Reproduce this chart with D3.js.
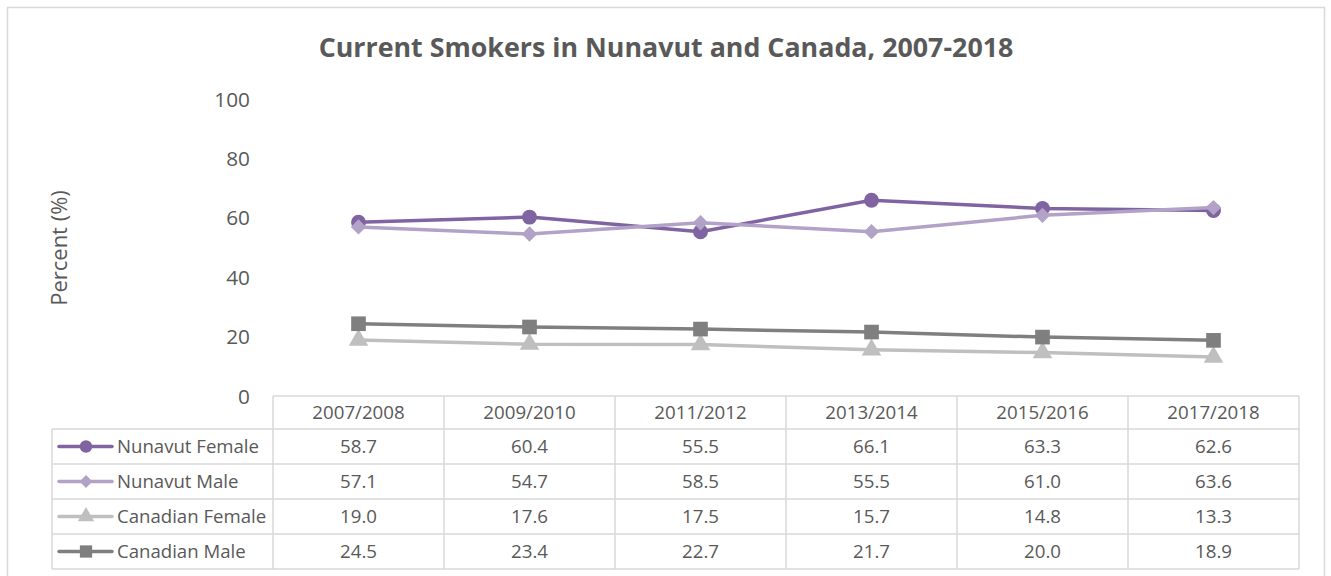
<!DOCTYPE html>
<html><head><meta charset="utf-8">
<script src="https://cdn.jsdelivr.net/npm/d3@7"></script>
<style>body{margin:0;background:#fff;} text{font-family:"Open Sans",sans-serif;}</style>
</head><body>
<svg id="c" width="1331" height="576"></svg>
<script>
const categories = ["2007/2008","2009/2010","2011/2012","2013/2014","2015/2016","2017/2018"];
const seriesNames = ["Nunavut Female","Nunavut Male","Canadian Female","Canadian Male"];
const nunavutFemale = [58.7,60.4,55.5,66.1,63.3,62.6];
const nunavutMale = [57.1,54.7,58.5,55.5,61.0,63.6];
const canadianFemale = [19.0,17.6,17.5,15.7,14.8,13.3];
const canadianMale = [24.5,23.4,22.7,21.7,20.0,18.9];
const yTicks = [0,20,40,60,80,100];
const colors = ["#8064A2","#B3A2C7","#BFBFBF","#7F7F7F"];
const symbols = [d3.symbolCircle, d3.symbolDiamond2 || d3.symbolDiamond, d3.symbolTriangle, d3.symbolSquare];
const symSizes = [175, 150, 165, 215];

const seriesData = [nunavutFemale, nunavutMale, canadianFemale, canadianMale];
const svg = d3.select("#c");
svg.append("rect").attr("x",7.5).attr("y",7.5).attr("width",1317).attr("height",580)
  .attr("fill","#fff").attr("stroke","#d9d9d9").attr("stroke-width",1.5);

svg.append("text").attr("x",666).attr("y",57).attr("text-anchor","middle")
  .attr("font-size",26.8).attr("font-weight","bold").attr("fill","#595959")
  .text("Current Smokers in Nunavut and Canada, 2007-2018");

const x = d3.scaleBand().domain(categories).range([273,1299]);
const y = d3.scaleLinear().domain([0,100]).range([396.5,99.5]);

const yAxis = d3.axisLeft(y).tickValues(yTicks).tickSize(0).tickPadding(0);
const ga = svg.append("g").attr("transform","translate(250,0)").call(yAxis);
ga.select(".domain").remove();
ga.selectAll("text").attr("font-size",20.8).attr("fill","#595959").attr("font-family","'Open Sans',sans-serif");

svg.append("text").attr("transform","translate(67,248) rotate(-90)").attr("text-anchor","middle")
  .attr("font-size",22).attr("fill","#595959").text("Percent (%)");

const line = d3.line().x((d,i)=>x(categories[i])+x.bandwidth()/2).y(d=>y(d));
seriesData.forEach((s,k)=>{
  svg.append("path").datum(s).attr("d",line).attr("fill","none")
    .attr("stroke",colors[k]).attr("stroke-width",3.5).attr("stroke-linejoin","round");
  svg.selectAll(null).data(s).enter().append("path")
    .attr("transform",(d,i)=>`translate(${x(categories[i])+x.bandwidth()/2},${y(d)})`)
    .attr("d",d3.symbol().type(symbols[k]).size(symSizes[k])).attr("fill",colors[k]);
});

const rowTop = [396,429,464,499,534,569];
const tableLeft = 52, tableRight = 1299;
const g = svg.append("g");
const bc = "#d9d9d9";
g.append("line").attr("x1",x(categories[0])).attr("x2",tableRight).attr("y1",rowTop[0]).attr("y2",rowTop[0]).attr("stroke",bc).attr("stroke-width",1.5);
for(let r=1;r<rowTop.length;r++){
  g.append("line").attr("x1",tableLeft).attr("x2",tableRight).attr("y1",rowTop[r]).attr("y2",rowTop[r]).attr("stroke",bc).attr("stroke-width",1.5);
}
g.append("line").attr("x1",tableLeft).attr("x2",tableLeft).attr("y1",rowTop[1]).attr("y2",rowTop[5]).attr("stroke",bc).attr("stroke-width",1.5);
const colEdges = categories.map(c=>x(c)).concat([tableRight]);
colEdges.forEach(cx=>{
  g.append("line").attr("x1",cx).attr("x2",cx).attr("y1",rowTop[0]).attr("y2",rowTop[5]).attr("stroke",bc).attr("stroke-width",1.5);
});
categories.forEach(c=>{
  g.append("text").attr("x",x(c)+x.bandwidth()/2).attr("y",(rowTop[0]+rowTop[1])/2+6.5)
    .attr("text-anchor","middle").attr("font-size",18.7).attr("fill","#595959").text(c);
});
seriesData.forEach((s,k)=>{
  const cy = (rowTop[k+1]+rowTop[k+2])/2;
  g.append("line").attr("x1",59).attr("x2",112).attr("y1",cy).attr("y2",cy).attr("stroke",colors[k]).attr("stroke-width",3.5).attr("stroke-linecap","round");
  g.append("path").attr("transform",`translate(86,${cy})`).attr("d",d3.symbol().type(symbols[k]).size(symSizes[k]*0.7)).attr("fill",colors[k]);
  g.append("text").attr("x",117).attr("y",cy+6.5).attr("font-size",18.6).attr("fill","#595959").text(seriesNames[k]);
  s.forEach((v,i)=>{
    g.append("text").attr("x",x(categories[i])+x.bandwidth()/2).attr("y",cy+6.5)
      .attr("text-anchor","middle").attr("font-size",18.7).attr("fill","#595959").text(v.toFixed(1));
  });
});
</script>
</body></html>
